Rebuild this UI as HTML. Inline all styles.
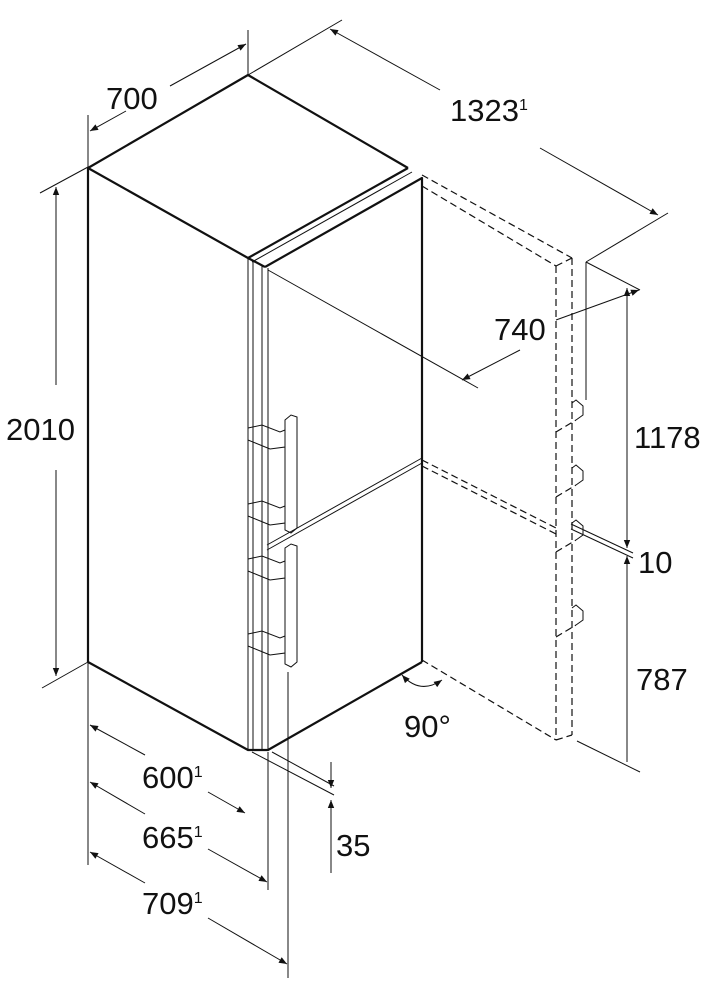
<!DOCTYPE html>
<html><head><meta charset="utf-8"><style>
html,body{margin:0;padding:0;background:#fff;}
svg{display:block}
text{font-family:"Liberation Sans",Arial,sans-serif;fill:#111}
</style></head><body>
<svg width="728" height="999" viewBox="0 0 728 999" xmlns="http://www.w3.org/2000/svg">
<defs>
<marker id="a" viewBox="0 0 10 10" refX="10" refY="5" markerWidth="14" markerHeight="8" markerUnits="userSpaceOnUse" orient="auto-start-reverse">
<path d="M0,1 L10,5 L0,9 Z" fill="#111"/></marker>
</defs>
<g stroke="#111" fill="none" stroke-width="1">
<line x1="88" y1="115" x2="88" y2="168"/>
<line x1="248" y1="30" x2="248" y2="75"/>
<line x1="90" y1="131" x2="126" y2="111" marker-start="url(#a)"/>
<line x1="170" y1="86" x2="246" y2="44" marker-end="url(#a)"/>
<line x1="248" y1="75" x2="342" y2="20"/>
<line x1="586" y1="262" x2="668" y2="213"/>
<line x1="330" y1="29" x2="440" y2="90" marker-start="url(#a)"/>
<line x1="540" y1="148" x2="658" y2="215" marker-end="url(#a)"/>
<line x1="40" y1="193" x2="88" y2="167"/>
<line x1="42" y1="688" x2="88" y2="662"/>
<line x1="56" y1="187" x2="56" y2="385" marker-start="url(#a)"/>
<line x1="56" y1="470" x2="56" y2="676" marker-end="url(#a)"/>
<line x1="268" y1="270" x2="478" y2="388"/>
<line x1="462" y1="380" x2="520" y2="350" marker-start="url(#a)"/>
<line x1="556" y1="320" x2="639" y2="290" marker-end="url(#a)"/>
<line x1="586" y1="262" x2="640" y2="290"/>
<line x1="586" y1="262" x2="586" y2="400"/>
<line x1="627" y1="288" x2="627" y2="548" marker-start="url(#a)" marker-end="url(#a)"/>
<line x1="627" y1="556" x2="627" y2="762" marker-start="url(#a)"/>
<line x1="571" y1="524" x2="633" y2="553"/>
<line x1="571" y1="529" x2="633" y2="558"/>
<line x1="577" y1="741" x2="640" y2="772"/>
<line x1="88" y1="662" x2="88" y2="865"/>
<line x1="268" y1="752" x2="268" y2="890"/>
<line x1="288" y1="672" x2="288" y2="978"/>
<line x1="90" y1="725" x2="145" y2="755" marker-start="url(#a)"/>
<line x1="208" y1="792" x2="245" y2="813" marker-end="url(#a)"/>
<line x1="90" y1="782" x2="145" y2="814" marker-start="url(#a)"/>
<line x1="208" y1="849" x2="267" y2="882" marker-end="url(#a)"/>
<line x1="90" y1="852" x2="145" y2="883" marker-start="url(#a)"/>
<line x1="208" y1="918" x2="287" y2="964" marker-end="url(#a)"/>
<line x1="252" y1="752" x2="334" y2="795"/>
<line x1="272" y1="752" x2="334" y2="786"/>
<line x1="331" y1="762" x2="331" y2="788" marker-end="url(#a)"/>
<line x1="331" y1="873" x2="331" y2="800" marker-end="url(#a)"/>
</g>
<g stroke="#111" fill="none" stroke-width="2.2" stroke-linejoin="round">
<path d="M88,168 L248,75 L408,168"/>
<path d="M88,168 L248,258 L408,168"/>
<line x1="88" y1="168" x2="88" y2="662"/>
<path d="M88,662 L248,750 L268,750 L422,662"/>
<path d="M265,267 L422,178 L422,662"/>
<path d="M248,258 L265,267"/>
<line x1="252" y1="262" x2="412" y2="172" stroke-width="1"/>
</g>
<g stroke="#111" fill="none" stroke-width="1">
<line x1="248" y1="258" x2="248" y2="750"/>
<line x1="253" y1="262" x2="253" y2="750"/>
<line x1="262" y1="266" x2="262" y2="750"/>
<line x1="268" y1="268" x2="268" y2="750"/>
<line x1="267" y1="545" x2="422" y2="458"/>
<line x1="267" y1="550" x2="422" y2="463"/>
<path d="M285,420 L291,415 L297,417 L297,528 L291,533 L285,530 Z"/>
<path d="M285,548 L291,544 L297,546 L297,662 L291,667 L285,664 Z"/>
<path d="M248,428 L262,425 L280,432 L285,430 L285,447 L270,449 L248,440 Z"/>
<path d="M248,504 L262,501 L280,508 L285,506 L285,523 L270,525 L248,516 Z"/>
<path d="M248,559 L262,556 L280,563 L285,561 L285,578 L270,580 L248,571 Z"/>
<path d="M248,634 L262,631 L280,638 L285,636 L285,653 L270,655 L248,646 Z"/>
<path d="M402,675 Q420,695 442,680" marker-start="url(#a)" marker-end="url(#a)"/>
</g>
<g stroke="#111" fill="none" stroke-width="1.2" stroke-dasharray="7,4">
<line x1="422" y1="175" x2="572" y2="258"/>
<line x1="422" y1="186" x2="556" y2="266"/>
<line x1="556" y1="266" x2="572" y2="258"/>
<line x1="556" y1="266" x2="556" y2="740"/>
<line x1="572" y1="258" x2="572" y2="735"/>
<line x1="556" y1="740" x2="572" y2="735"/>
<line x1="422" y1="460" x2="556" y2="528"/>
<line x1="422" y1="466" x2="556" y2="534"/>
<line x1="422" y1="660" x2="556" y2="740"/>
<path d="M556,432 L576,420 M556,497 L576,485 M556,552 L576,540 M556,637 L576,625"/>
</g>
<g stroke="#111" fill="none" stroke-width="1">
<path d="M572,403 L576,400 L583,406 L583,415 L576,420"/>
<path d="M572,468 L576,465 L583,471 L583,480 L576,485"/>
<path d="M572,523 L576,520 L583,526 L583,535 L576,540"/>
<path d="M572,608 L576,605 L583,611 L583,620 L576,625"/>
</g>
<g font-size="31">
<text x="106" y="109">700</text>
<text x="450" y="121">1323<tspan font-size="16" dy="-11">1</tspan></text>
<text x="6" y="440">2010</text>
<text x="494" y="340">740</text>
<text x="634" y="448">1178</text>
<text x="638" y="573">10</text>
<text x="636" y="690">787</text>
<text x="404" y="737">90°</text>
<text x="142" y="788">600<tspan font-size="16" dy="-11">1</tspan></text>
<text x="142" y="848">665<tspan font-size="16" dy="-11">1</tspan></text>
<text x="142" y="914">709<tspan font-size="16" dy="-11">1</tspan></text>
<text x="336" y="856">35</text>
</g>
</svg>
</body></html>
